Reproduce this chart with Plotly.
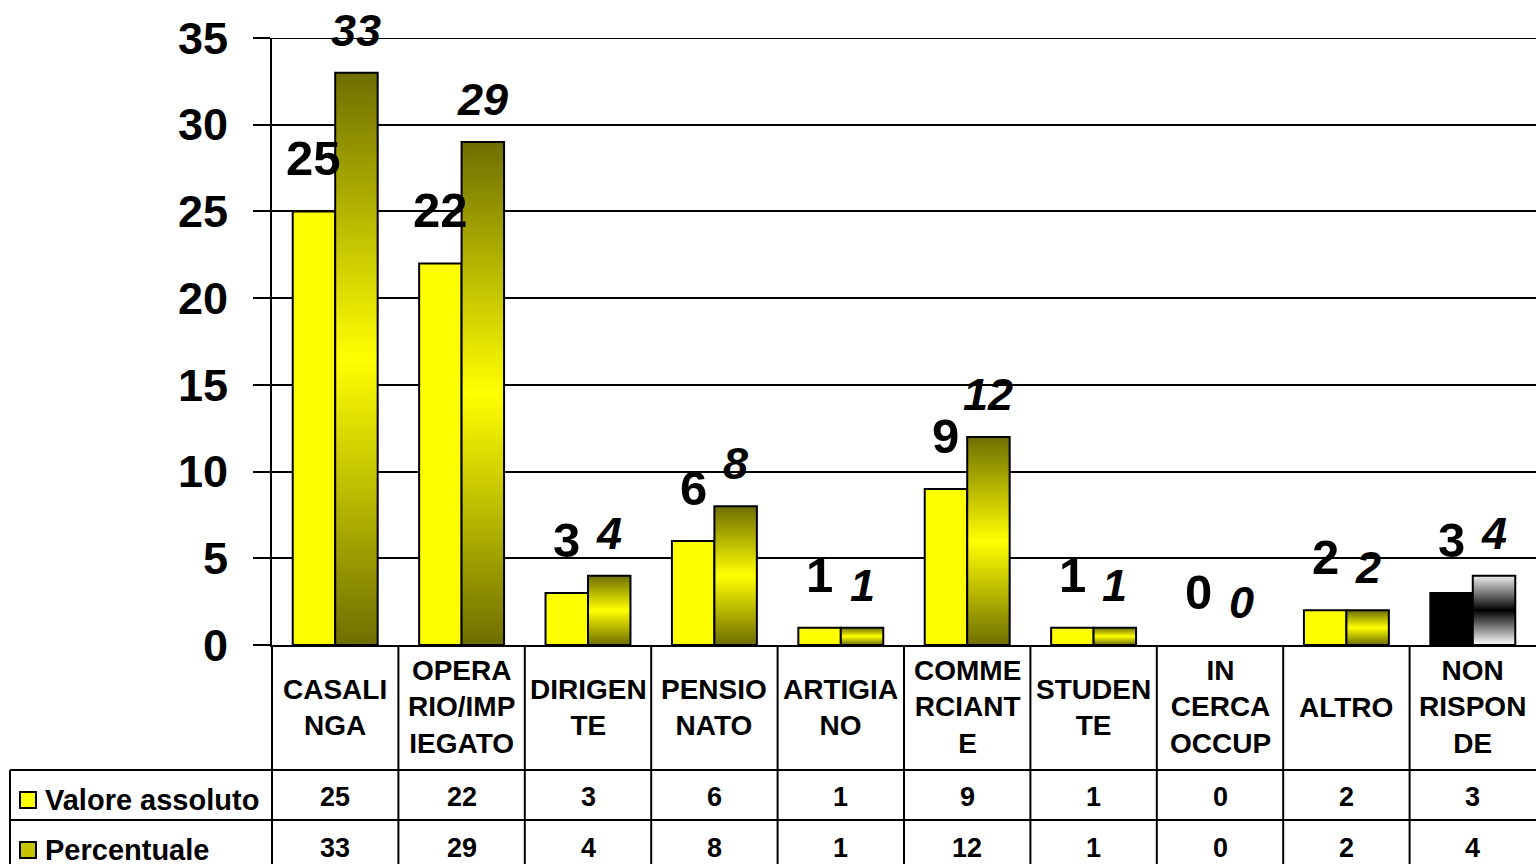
import plotly.graph_objects as go

categories = ["CASALINGA", "OPERARIO/IMPIEGATO", "DIRIGENTE", "PENSIONATO", "ARTIGIANO",
              "COMMERCIANTE", "STUDENTE", "IN CERCA OCCUP", "ALTRO", "NON RISPONDE"]
# category names wrapped the way the table header shows them
category_labels = ["CASALI<br>NGA", "OPERA<br>RIO/IMP<br>IEGATO", "DIRIGEN<br>TE", "PENSIO<br>NATO",
                   "ARTIGIA<br>NO", "COMME<br>RCIANT<br>E", "STUDEN<br>TE", "IN<br>CERCA<br>OCCUP",
                   "ALTRO", "NON<br>RISPON<br>DE"]
valore_assoluto = [25, 22, 3, 6, 1, 9, 1, 0, 2, 3]
percentuale = [33, 29, 4, 8, 1, 12, 1, 0, 2, 4]
series_names = ["Valore assoluto", "Percentuale"]
y_ticks = [0, 5, 10, 15, 20, 25, 30, 35]

W, H = 1536, 864
L, R, T, B = 272, 0, 38, 219
plot_w = W - L - R
plot_h = H - T - B


def px_x(p):
    # pixel column -> paper x
    return (p - L) / plot_w


def px_y(p):
    # pixel row -> paper y
    return (H - B - p) / plot_h


FONT = "Liberation Sans, Arial, sans-serif"
BAR_W = 0.336
idx = list(range(len(categories)))

olive_scale = [[0, "#6e6e00"], [0.5, "#ffff00"], [1, "#6e6e00"]]
grey_scale = [[0, "#ffffff"], [0.5, "#000000"], [1, "#f0f0f0"]]
bar_colors = ["#000000" if c == "NON RISPONDE" else "#ffff00" for c in categories]
bar_edges = [2 if v > 0 else 0 for v in valore_assoluto]

fig = go.Figure()

fig.add_trace(
    go.Bar(
        x=idx,
        y=valore_assoluto,
        width=BAR_W,
        offset=-BAR_W,
        name=series_names[0],
        marker=dict(color=bar_colors, line=dict(color="black", width=bar_edges)),
        hoverinfo="skip",
    )
)

# percentuale bars drawn as filled outlines so they can carry the vertical gradient
for i, v in zip(idx, percentuale):
    if v == 0:
        continue
    scale = grey_scale if categories[i] == "NON RISPONDE" else olive_scale
    fig.add_trace(
        go.Scatter(
            x=[i, i, i + BAR_W, i + BAR_W, i],
            y=[0, v, v, 0, 0],
            mode="lines",
            fill="toself",
            fillgradient=dict(type="vertical", colorscale=scale, start=0, stop=v),
            line=dict(color="black", width=2),
            name=series_names[1],
            showlegend=False,
            hoverinfo="skip",
        )
    )

# value labels above the bars
for i, v in zip(idx, valore_assoluto):
    fig.add_annotation(
        x=i - BAR_W / 2, y=v, text=str(v), showarrow=False, yanchor="bottom", yshift=24,
        font=dict(family=FONT, size=49, color="black", weight="bold"),
    )
for i, v in zip(idx, percentuale):
    fig.add_annotation(
        x=i + BAR_W / 2, y=v, text=str(v), showarrow=False, yanchor="bottom", yshift=15,
        font=dict(family=FONT, size=45, color="black", weight="bold", style="italic"),
    )

# data table under the chart
for i, lab in enumerate(category_labels):
    fig.add_annotation(
        x=i, xref="x", y=px_y(707), yref="paper", text=lab, showarrow=False,
        yanchor="middle", align="center",
        font=dict(family=FONT, size=28, color="black", weight="bold"),
    )
for row_y, values in [(797, valore_assoluto), (848, percentuale)]:
    for i, v in zip(idx, values):
        fig.add_annotation(
            x=i, xref="x", y=px_y(row_y), yref="paper", text=str(v), showarrow=False,
            yanchor="middle", font=dict(family=FONT, size=27, color="black", weight="bold"),
        )

key_fill = ["#ffff00", "#c4c400"]
for k, (name, row_y) in enumerate(zip(series_names, [800, 850])):
    fig.add_annotation(
        x=px_x(43), xref="paper", y=px_y(row_y), yref="paper", text=name, showarrow=False,
        xanchor="left", yanchor="middle",
        font=dict(family=FONT, size=29, color="black", weight="bold"),
    )
    fig.add_shape(
        type="rect", xref="paper", yref="paper",
        x0=px_x(20), x1=px_x(36), y0=px_y(row_y - 8), y1=px_y(row_y + 8),
        fillcolor=key_fill[k], line=dict(color="black", width=2), layer="above",
    )

line_style = dict(color="black", width=2)
# top gridline at 35 (plotly drops the one on the range edge)
fig.add_shape(type="line", xref="paper", yref="y", x0=0, x1=1, y0=y_ticks[-1], y1=y_ticks[-1],
              line=line_style, layer="below")
for row in [770, 820]:
    fig.add_shape(type="line", xref="paper", yref="paper", x0=px_x(10), x1=1,
                  y0=px_y(row), y1=px_y(row), line=line_style, layer="above")
fig.add_shape(type="line", xref="paper", yref="paper", x0=px_x(10), x1=px_x(10),
              y0=px_y(770), y1=px_y(880), line=line_style, layer="above")
for k in range(len(categories)):
    fig.add_shape(type="line", xref="paper", yref="paper", x0=k / len(categories), x1=k / len(categories),
                  y0=0, y1=px_y(880), line=line_style, layer="above")

fig.update_xaxes(
    range=[-0.5, len(categories) - 0.5], showticklabels=False, showgrid=False, zeroline=False,
    showline=True, linecolor="black", linewidth=2, ticks="",
)
fig.update_yaxes(
    range=[0, 35], tickvals=y_ticks, showgrid=True, gridcolor="black", gridwidth=2,
    zeroline=False, showline=True, linecolor="black", linewidth=2,
    ticks="outside", ticklen=17, tickwidth=2, tickcolor="black", ticklabelstandoff=16,
    tickfont=dict(family=FONT, size=45, color="black", weight="bold"),
)
fig.update_layout(
    width=W, height=H, margin=dict(l=L, r=R, t=T, b=B),
    paper_bgcolor="white", plot_bgcolor="white", showlegend=False, barmode="overlay",
)

fig.write_html("out.html", config={"displayModeBar": False},
               post_script="document.body.style.margin='0';")
